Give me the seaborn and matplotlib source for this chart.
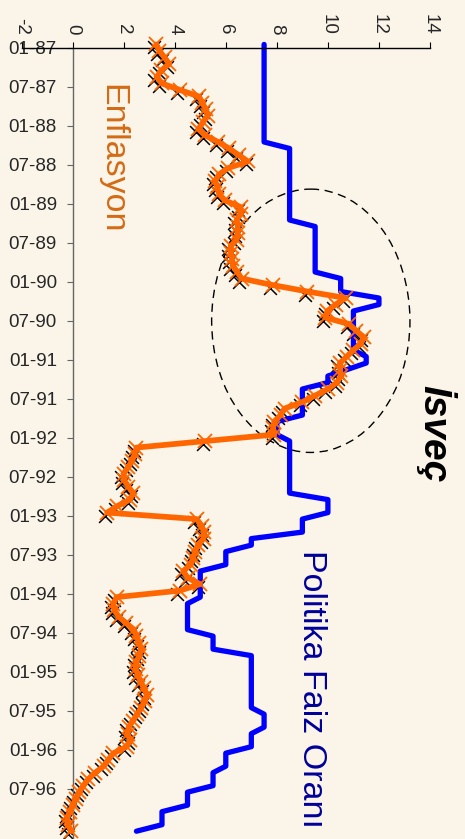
import numpy as np
import pandas as pd
import matplotlib
matplotlib.use('Agg')
import matplotlib.pyplot as plt
import matplotlib.transforms as mtransforms
from matplotlib.patches import Ellipse
import seaborn as sns

# monthly data, Jan 1987 - Feb 1997
months = pd.period_range('1987-01', periods=122, freq='M')

enflasyon = [3.28, 3.4, 3.6, 3.78, 3.47, 3.3, 3.5, 4.2, 4.95, 5.08,
             5.22, 5.29, 5.1, 4.93, 5.2, 5.7, 6.13, 6.5, 6.87, 6.1,
             5.73, 5.59, 5.67, 5.74, 5.97, 6.58, 6.58, 6.43, 6.47, 6.47,
             6.43, 6.19, 6.2, 6.24, 6.28, 6.45, 6.62, 7.83, 9.2, 10.7,
             10.3, 9.98, 9.9, 10.83, 11.1, 11.4, 11.3, 11.0, 10.74, 10.47,
             10.48, 10.5, 10.36, 10.0, 9.5, 9.0, 8.3, 8.15, 7.9, 7.85,
             7.9, 5.2, 2.5, 2.43, 2.33, 2.18, 2.0, 2.02, 2.18, 2.37,
             2.25, 1.75, 1.35, 4.86, 5.05, 5.15, 5.13, 4.9, 4.8, 4.72,
             4.63, 4.33, 4.5, 4.99, 4.2, 1.72, 1.6, 1.63, 1.8, 2.1,
             2.4, 2.5, 2.6, 2.69, 2.6, 2.5, 2.47, 2.56, 2.66, 2.8,
             2.9, 2.83, 2.69, 2.53, 2.36, 2.2, 2.15, 2.25, 2.12, 1.6,
             1.4, 1.22, 0.88, 0.61, 0.42, 0.25, 0.12, 0.0, -0.12, -0.21,
             -0.17, -0.07]

politika_faiz = [7.5, 7.5, 7.5, 7.5, 7.5, 7.5, 7.5, 7.5, 7.5, 7.5,
                 7.5, 7.5, 7.5, 7.5, 7.5, 7.5, 8.5, 8.5, 8.5, 8.5,
                 8.5, 8.5, 8.5, 8.5, 8.5, 8.5, 8.5, 8.5, 9.5, 9.5,
                 9.5, 9.5, 9.5, 9.5, 9.5, 9.5, 10.5, 10.5, 10.5, 12.0,
                 12.0, 11.0, 11.0, 11.0, 11.0, 11.0, 11.0, 11.0, 11.5, 11.5,
                 10.75, 10.0, 10.0, 9.0, 9.0, 9.0, 9.0, 9.0, 8.0, 8.0,
                 8.0, 8.5, 8.5, 8.5, 8.5, 8.5, 8.5, 8.5, 8.5, 8.5,
                 10.0, 10.0, 10.0, 9.0, 9.0, 9.0, 7.0, 7.0, 6.0, 6.0,
                 6.0, 5.0, 5.0, 5.0, 5.0, 5.0, 4.5, 4.5, 4.5, 4.5,
                 4.5, 5.5, 5.5, 5.5, 7.0, 7.0, 7.0, 7.0, 7.0, 7.0,
                 7.0, 7.0, 7.0, 7.5, 7.5, 7.5, 7.0, 7.0, 7.0, 6.0,
                 6.0, 6.0, 5.5, 5.5, 5.5, 4.5, 4.5, 4.5, 3.5, 3.5,
                 3.5, 2.5]

x_ticks = [-2, 0, 2, 4, 6, 8, 10, 12, 14]
date_labels = [m.strftime('%m-%y') for m in months[:115:6]]

bg = '#FAF4E9'
sns.set_theme(style='white')
plt.rcParams['font.family'] = ['Liberation Sans', 'DejaVu Sans']
plt.rcParams['figure.facecolor'] = bg
plt.rcParams['axes.facecolor'] = bg

idx = np.arange(len(months))

fig = plt.figure(figsize=(4.65, 8.39), dpi=100)
ax = fig.add_axes([21.6 / 465, 0, 408.4 / 465, 1 - 47.7 / 839])

# black "shadow" crosses under the inflation line
shadow = mtransforms.offset_copy(ax.transData, fig=fig, x=-2.5, y=-3, units='dots')
sns.scatterplot(x=enflasyon, y=idx, marker='x', color='black', s=85,
                linewidth=1.1, transform=shadow, clip_on=False, zorder=2, ax=ax)

sns.lineplot(x=politika_faiz, y=idx, orient='y', sort=False, color='#0000FF',
             linewidth=3.8, clip_on=False, zorder=2.5, ax=ax)

sns.lineplot(x=enflasyon, y=idx, orient='y', sort=False, color='#FF6600',
             linewidth=4.1, marker='x', markersize=9.5, markeredgewidth=1.3,
             markeredgecolor='#FF6600', clip_on=False, zorder=3, ax=ax)

# dashed ellipse around 1990-91
ax.add_patch(Ellipse((9.33, 42.5), width=7.77, height=40.5, fill=False,
                     edgecolor='black', linewidth=1.0, linestyle=(0, (6, 4))))

ax.set_xlim(-2, 14)
ax.set_ylim(122.2, 0.5)

ax.xaxis.tick_top()
ax.set_xticks(x_ticks)
ax.set_xticklabels([str(t) for t in x_ticks], rotation=-90)
ax.set_yticks(np.arange(0, 115, 6) + 0.5)
ax.set_yticklabels(date_labels)

ax.spines['left'].set_position(('data', 0))
ax.spines['left'].set_color('#666666')
ax.spines['top'].set_color('black')
ax.spines['top'].set_linewidth(1.0)
ax.spines['left'].set_linewidth(1.0)
ax.spines['right'].set_visible(False)
ax.spines['bottom'].set_visible(False)

ax.tick_params(axis='x', top=True, length=4.3, width=0.8, color='black',
               labelsize=13.5, pad=5)
ax.tick_params(axis='y', left=True, length=4.3, width=0.8, color='#666666',
               labelsize=13.5, pad=7)
ax.set_xlabel('')
ax.set_ylabel('')

fig.text(112 / 465, 1 - 159 / 839, 'Enflasyon', rotation=-90, color='#D46A14',
         fontsize=24.5, ha='center', va='center')
fig.text(311 / 465, 1 - 689 / 839, 'Politika Faiz Oranı', rotation=-90, color='#000099',
         fontsize=24.5, ha='center', va='center')
fig.text(436 / 465, 1 - 434 / 839, 'İsveç', rotation=-90, color='black',
         fontsize=28, fontweight='bold', fontstyle='italic', ha='center', va='center')

fig.savefig('out.png', dpi=100, facecolor=bg)
